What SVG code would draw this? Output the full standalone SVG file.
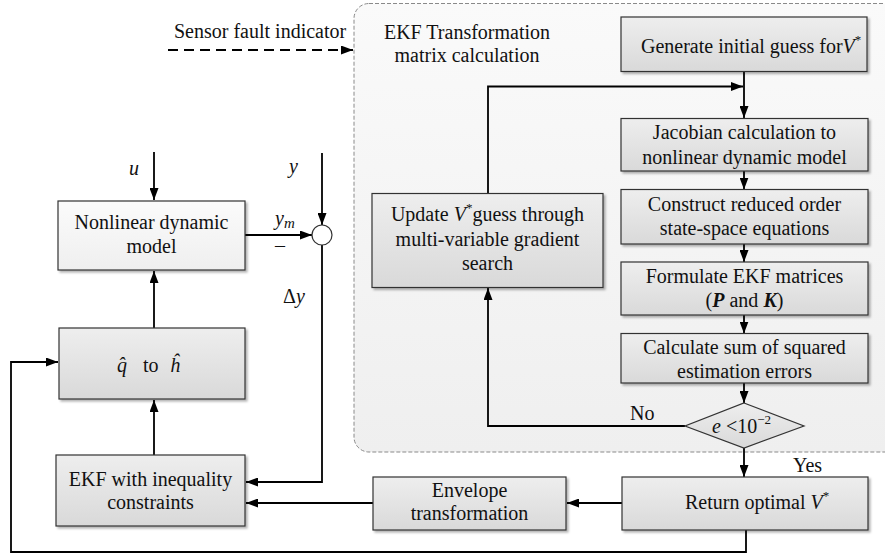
<svg xmlns="http://www.w3.org/2000/svg" width="885" height="555" viewBox="0 0 885 555" font-family="'Liberation Serif', 'DejaVu Serif', serif">
<defs>
<style>
text{font-family:'Liberation Serif','DejaVu Serif',serif;font-size:20px;fill:#111}
.c{text-anchor:middle}
.i{font-style:italic}
.b{font-weight:bold;font-style:italic}
.box{fill:url(#g);stroke:#333;stroke-width:1.2;filter:url(#sh)}
.lbox{fill:url(#gl);stroke:#333;stroke-width:1.2;filter:url(#sh)}
.ln{fill:none;stroke:#000;stroke-width:1.8}
.ar{marker-end:url(#ah)}
</style>
<linearGradient id="g" x1="0" y1="0" x2="0" y2="1"><stop offset="0" stop-color="#eeeeee"/><stop offset="1" stop-color="#d9d9d9"/></linearGradient>
<linearGradient id="gl" x1="0" y1="0" x2="0" y2="1"><stop offset="0" stop-color="#fbfbfb"/><stop offset="1" stop-color="#efefef"/></linearGradient>
<linearGradient id="gc" x1="0" y1="0" x2="0" y2="1"><stop offset="0" stop-color="#fafafa"/><stop offset="1" stop-color="#efefef"/></linearGradient>
<filter id="sh" x="-5%" y="-5%" width="115%" height="125%"><feDropShadow dx="2" dy="2" stdDeviation="1" flood-color="#000" flood-opacity="0.3"/></filter>
<marker id="ah" viewBox="0 0 12 9" refX="12" refY="4.5" markerWidth="12" markerHeight="9" markerUnits="userSpaceOnUse" orient="auto"><path d="M0,0 L12,4.5 L0,9 z" fill="#000"/></marker>
</defs>
<rect width="885" height="555" fill="#fff"/>

<g id="container">
<rect x="354" y="3.5" width="560" height="448.5" rx="15" ry="15" fill="url(#gc)" stroke="#8a8a8a" stroke-width="1" stroke-dasharray="4 2"/>
<text class="c" x="467" y="39">EKF Transformation</text>
<text class="c" x="467" y="62">matrix calculation</text>
</g>

<g id="connectors">
<path class="ln ar" d="M168,50 H353" stroke-dasharray="10 6"/>
<path class="ln ar" d="M154,152 V200"/>
<path class="ln ar" d="M322,153 V225"/>
<path class="ln ar" d="M245,235 H312"/>
<path class="ln ar" d="M322,245 V482 H246"/>
<path class="ln ar" d="M154,328 V271"/>
<path class="ln ar" d="M154,455 V400"/>
<path class="ln ar" d="M373,503 H246"/>
<path class="ln ar" d="M622,503 H567"/>
<path class="ln ar" d="M746,530 V552 H11 V362 H58"/>
<path class="ln ar" d="M744,71.5 V118"/>
<path class="ln ar" d="M685,426 H488 V288"/>
<path class="ln ar" d="M488,193.5 V86.5 H743"/>
<path class="ln ar" d="M744,171 V189.5"/>
<path class="ln ar" d="M744,244 V262"/>
<path class="ln ar" d="M744,315 V333.5"/>
<path class="ln ar" d="M744,383 V403"/>
<path class="ln ar" d="M744,448 V477"/>
</g>

<g id="labels">
<text x="174" y="38">Sensor fault indicator</text>
<text class="i" x="129" y="175" font-size="22">u</text>
<text class="i" x="289" y="173" font-size="22">y</text>
<text class="i" x="275" y="225" font-size="22">y<tspan font-size="15" dy="3">m</tspan></text>
<text x="275" y="252">–</text>
<text x="283" y="303" font-size="22">Δ<tspan class="i">y</tspan></text>
<text x="630" y="420">No</text>
<text x="793" y="472">Yes</text>
</g>

<g id="nonlinear">
<rect class="lbox" x="58" y="201" width="187" height="69"/>
<text class="c" x="151.5" y="229">Nonlinear dynamic</text>
<text class="c" x="151.5" y="253">model</text>
</g>

<g id="sum">
<circle cx="322" cy="235" r="10" fill="#fff" stroke="#333" stroke-width="1.2"/>
</g>

<g id="qtoh">
<rect class="box" x="59" y="328" width="186" height="71"/>
<text x="117" y="372" font-size="24"><tspan class="i">q̂</tspan><tspan x="143" font-size="20">to</tspan><tspan class="i" x="170">ĥ</tspan></text>
</g>

<g id="ekf">
<rect class="box" x="56" y="455" width="189" height="71"/>
<text class="c" x="150.5" y="486">EKF with inequality</text>
<text class="c" x="150.5" y="509">constraints</text>
</g>

<g id="envelope">
<rect class="box" x="373" y="477" width="193" height="53"/>
<text class="c" x="469.5" y="497">Envelope</text>
<text class="c" x="469.5" y="520">transformation</text>
</g>

<g id="return">
<rect class="box" x="622" y="477" width="246" height="53"/>
<text x="685" y="509">Return optimal <tspan class="i">V</tspan><tspan font-size="13" dy="-9">*</tspan></text>
</g>

<g id="generate">
<rect class="box" x="621" y="17" width="246" height="54.5"/>
<text x="641" y="53">Generate initial guess for<tspan class="i">V</tspan><tspan font-size="13" dy="-9">*</tspan></text>
</g>

<g id="jacobian">
<rect class="box" x="621" y="118.5" width="247" height="52.5"/>
<text class="c" x="744.5" y="139">Jacobian calculation to</text>
<text class="c" x="744.5" y="164">nonlinear dynamic model</text>
</g>

<g id="construct">
<rect class="box" x="621" y="189.5" width="247" height="54.5"/>
<text class="c" x="744.5" y="211">Construct reduced order</text>
<text class="c" x="744.5" y="235">state-space equations</text>
</g>

<g id="formulate">
<rect class="box" x="621" y="262" width="247" height="53"/>
<text class="c" x="744.5" y="283">Formulate EKF matrices</text>
<text class="c" x="744.5" y="307">(<tspan class="b">P</tspan> and <tspan class="b">K</tspan>)</text>
</g>

<g id="calculate">
<rect class="box" x="621" y="333.5" width="247" height="49.5"/>
<text class="c" x="744.5" y="354">Calculate sum of squared</text>
<text class="c" x="744.5" y="378">estimation errors</text>
</g>

<g id="update">
<rect class="box" x="372" y="193.5" width="231" height="94"/>
<text class="c" x="487.5" y="221">Update <tspan class="i">V</tspan><tspan font-size="13" dy="-9">*</tspan><tspan dy="9">guess through</tspan></text>
<text class="c" x="487.5" y="246">multi-variable gradient</text>
<text class="c" x="487.5" y="270">search</text>
</g>

<g id="decision">
<path d="M744,403 L804,426 L744,448 L685,426 Z" fill="url(#g)" stroke="#333" stroke-width="1.2"/>
<text x="712" y="433"><tspan class="i">e</tspan> &lt;10<tspan font-size="13" dy="-9">−2</tspan></text>
</g>
</svg>
